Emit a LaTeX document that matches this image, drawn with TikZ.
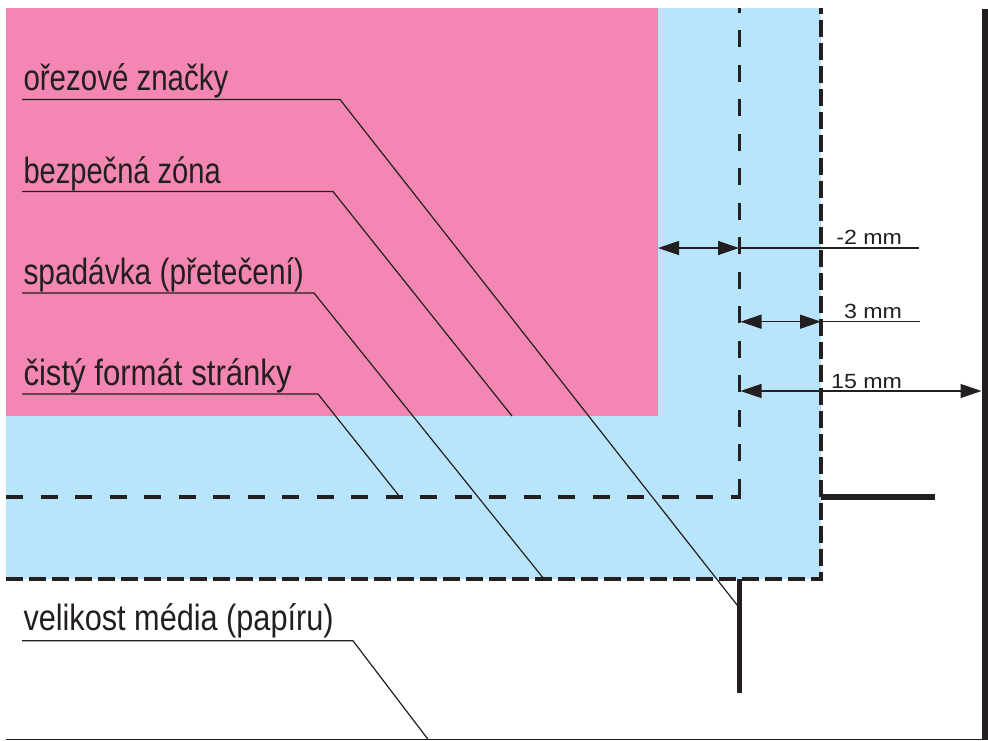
\documentclass[tikz,border=0pt]{standalone}
\usepackage{fontspec}
\usepackage{graphicx}
\setmainfont{Liberation Sans}
\usetikzlibrary{arrows.meta}
\definecolor{ink}{HTML}{231F20}
\definecolor{pinkzone}{HTML}{F386B3}
\definecolor{bluezone}{HTML}{B8E5FB}
\newcommand{\mainlabel}[2]{\scalebox{#1}[1]{\fontsize{36.5pt}{36.5pt}\selectfont #2}}
\newcommand{\dimlabel}[1]{\scalebox{1.13}[1]{\fontsize{20.5pt}{20.5pt}\selectfont #1}}
\tikzset{
  every node/.style={inner sep=0pt,outer sep=0pt,text=ink},
  lab/.style={anchor=base west},
  dimlab/.style={anchor=base east},
  leader/.style={draw=ink,line width=1.2pt,line join=miter},
  outerdash/.style={draw=ink,line width=3.2pt,dash pattern=on 17pt off 6pt},
  innerdash/.style={draw=ink,line width=3.2pt,dash pattern=on 17pt off 17.5pt},
  heavy/.style={draw=ink,line width=5.5pt},
  dimline/.style={draw=ink,line width=1.3pt,{Triangle[length=21pt,width=14pt]}-{Triangle[length=21pt,width=14pt]}},
  dimtail/.style={draw=ink,line width=1.3pt}
}
\begin{document}
\begin{tikzpicture}[x=1pt,y=-1pt]
\useasboundingbox (0,0) rectangle (988,740);
\fill[bluezone] (6,8) rectangle (821,579);
\fill[pinkzone] (6,8) rectangle (658,416);

% frame corners
\coordinate (bl) at (6,579);
\coordinate (br) at (821,579);
\coordinate (bt) at (821,8);
\coordinate (tl) at (6,497);
\coordinate (tr) at (739.5,497);
\coordinate (tt) at (739.5,8);
\draw[outerdash] (bl) -- (br) -- (bt);
\draw[innerdash] (tl) -- ([xshift=1.5pt]tr);
\draw[innerdash] ([yshift=1.5pt]tr) -- (tt);

% crop marks and media edge
\coordinate (cropVa) at (739.5,579);
\coordinate (cropVb) at (739.5,692.5);
\coordinate (cropHa) at (821,497);
\coordinate (cropHb) at (935,497);
\coordinate (edgeT) at (984.5,8.5);
\coordinate (edgeB) at (984.5,740);
\coordinate (mediaL) at (6,739.3);
\coordinate (mediaR) at (982,739.3);
\draw[heavy] (cropVa) -- (cropVb);
\draw[heavy] (cropHa) -- (cropHb);
\draw[draw=ink,line width=6pt] (edgeT) -- (edgeB);
\draw[leader] (mediaL) -- (mediaR);

% labels
\node[lab] (l1) at (23.5,90) {\mainlabel{0.808}{ořezové značky}};
\node[lab] (l2) at (23.5,183) {\mainlabel{0.797}{bezpečná zóna}};
\node[lab] (l3) at (23.5,284) {\mainlabel{0.818}{spadávka (přetečení)}};
\node[lab] (l4) at (23.5,385.5) {\mainlabel{0.853}{čistý formát stránky}};
\node[lab] (l5) at (23.5,630.5) {\mainlabel{0.84}{velikost média (papíru)}};

% leaders
\coordinate (a1) at (22,99.5);  \coordinate (b1) at (340,99.5);  \coordinate (c1) at (737.5,605.5);
\coordinate (a2) at (22,191.5); \coordinate (b2) at (333,191.5); \coordinate (c2) at (512,416);
\coordinate (a3) at (22,293);   \coordinate (b3) at (314,293);   \coordinate (c3) at (544,579);
\coordinate (a4) at (22,394);   \coordinate (b4) at (318,394);   \coordinate (c4) at (400,497);
\coordinate (a5) at (22,640.8); \coordinate (b5) at (353,640.8); \coordinate (c5) at (428,739.3);
\draw[leader] (a1) -- (b1) -- (c1);
\draw[leader] (a2) -- (b2) -- (c2);
\draw[leader] (a3) -- (b3) -- (c3);
\draw[leader] (a4) -- (b4) -- (c4);
\draw[leader] (a5) -- (b5) -- (c5);

% dimensions
\coordinate (d1a) at (658,248); \coordinate (d1b) at (739,248); \coordinate (d1c) at (919,248);
\coordinate (d2a) at (740.5,321.7); \coordinate (d2b) at (821,321.7); \coordinate (d2c) at (920,321.7);
\coordinate (d3a) at (740.5,391); \coordinate (d3b) at (981.5,391);
\draw[dimline] (d1a) -- (d1b);
\draw[dimtail] (d1b) -- (d1c);
\draw[dimline] (d2a) -- (d2b);
\draw[dimtail] (d2b) -- (d2c);
\draw[dimline] (d3a) -- (d3b);
\node[dimlab] (t1) at (902,244.8) {\dimlabel{-2 mm}};
\node[dimlab] (t2) at (902,318.8) {\dimlabel{3 mm}};
\node[dimlab] (t3) at (902,388.2) {\dimlabel{15 mm}};
\end{tikzpicture}
\end{document}
